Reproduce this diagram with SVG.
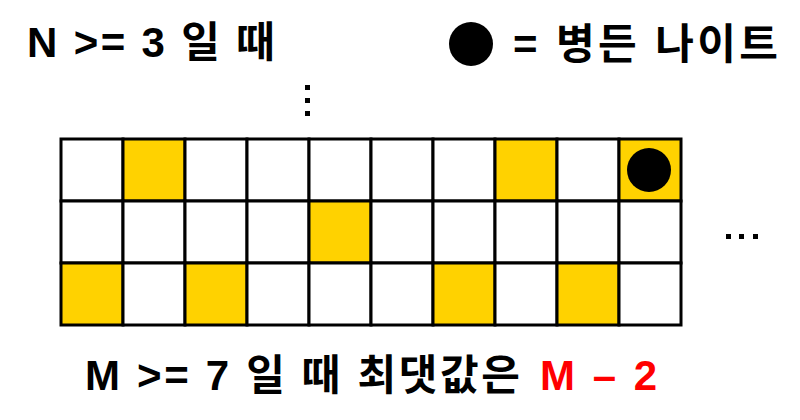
<svg xmlns="http://www.w3.org/2000/svg" width="800" height="420" viewBox="0 0 800 420">
<style>
.t{font-family:"Liberation Sans","Noto Sans CJK KR",sans-serif;font-weight:bold;font-size:42px;fill:#000}
.c{stroke:#000;stroke-width:3;fill:#fff}
.y{fill:#FFD200}
.d{fill:#000}
</style>
<rect width="800" height="420" fill="#fff"/>
<g id="title-n"><text class="t" x="27" y="57" textLength="248" lengthAdjust="spacing">N &gt;= 3 일 때</text></g>
<g id="legend">
<circle cx="471" cy="44" r="22" class="d"/>
<text class="t" x="513" y="59" textLength="265" lengthAdjust="spacing">= 병든 나이트</text>
</g>
<g id="vdots"><rect x="305" y="85" width="5" height="5" class="d"/><rect x="305" y="98" width="5" height="5" class="d"/><rect x="305" y="111" width="5" height="5" class="d"/></g>
<g id="hdots"><rect x="726" y="234" width="5" height="5" class="d"/><rect x="739" y="234" width="5" height="5" class="d"/><rect x="753" y="234" width="5" height="5" class="d"/></g>
<g id="board">
<g id="row0">
<rect class="c" x="61" y="139" width="62" height="62"/>
<rect class="c y" x="123" y="139" width="62" height="62"/>
<rect class="c" x="185" y="139" width="62" height="62"/>
<rect class="c" x="247" y="139" width="62" height="62"/>
<rect class="c" x="309" y="139" width="62" height="62"/>
<rect class="c" x="371" y="139" width="62" height="62"/>
<rect class="c" x="433" y="139" width="62" height="62"/>
<rect class="c y" x="495" y="139" width="62" height="62"/>
<rect class="c" x="557" y="139" width="62" height="62"/>
<rect class="c y" x="619" y="139" width="62" height="62"/>
</g>
<g id="row1">
<rect class="c" x="61" y="201" width="62" height="62"/>
<rect class="c" x="123" y="201" width="62" height="62"/>
<rect class="c" x="185" y="201" width="62" height="62"/>
<rect class="c" x="247" y="201" width="62" height="62"/>
<rect class="c y" x="309" y="201" width="62" height="62"/>
<rect class="c" x="371" y="201" width="62" height="62"/>
<rect class="c" x="433" y="201" width="62" height="62"/>
<rect class="c" x="495" y="201" width="62" height="62"/>
<rect class="c" x="557" y="201" width="62" height="62"/>
<rect class="c" x="619" y="201" width="62" height="62"/>
</g>
<g id="row2">
<rect class="c y" x="61" y="263" width="62" height="62"/>
<rect class="c" x="123" y="263" width="62" height="62"/>
<rect class="c y" x="185" y="263" width="62" height="62"/>
<rect class="c" x="247" y="263" width="62" height="62"/>
<rect class="c" x="309" y="263" width="62" height="62"/>
<rect class="c" x="371" y="263" width="62" height="62"/>
<rect class="c y" x="433" y="263" width="62" height="62"/>
<rect class="c" x="495" y="263" width="62" height="62"/>
<rect class="c y" x="557" y="263" width="62" height="62"/>
<rect class="c" x="619" y="263" width="62" height="62"/>
</g>
<circle id="knight" cx="649" cy="170" r="22" class="d"/>
</g>
<g id="caption">
<text class="t" x="85" y="390" textLength="435" lengthAdjust="spacing">M &gt;= 7 일 때 최댓값은</text>
<text class="t" x="540" y="390" textLength="117" lengthAdjust="spacing" fill="#FF0000" style="fill:#FF0000">M – 2</text>
</g>
</svg>
